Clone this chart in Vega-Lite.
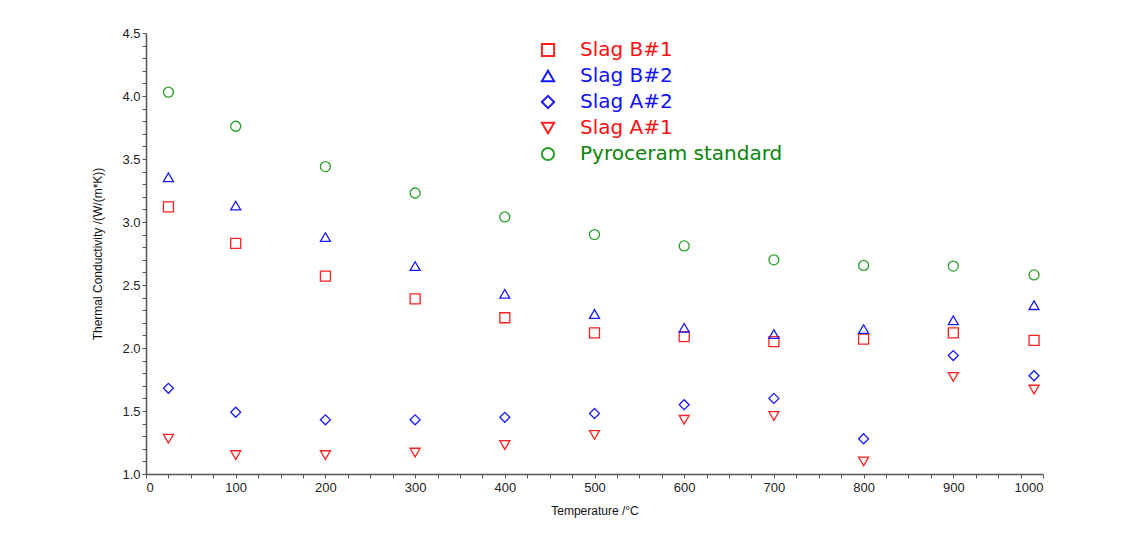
{
  "$schema": "https://vega.github.io/schema/vega-lite/v6.json",
  "width": 897,
  "height": 441,
  "autosize": {"type": "none"},
  "padding": {"left": 146, "top": 33, "right": 90, "bottom": 63},
  "background": "white",
  "data": {
    "values": [
      {"series": "Slag B#1", "T": 25, "k": 3.12},
      {"series": "Slag B#1", "T": 100, "k": 2.83},
      {"series": "Slag B#1", "T": 200, "k": 2.57},
      {"series": "Slag B#1", "T": 300, "k": 2.39},
      {"series": "Slag B#1", "T": 400, "k": 2.24},
      {"series": "Slag B#1", "T": 500, "k": 2.12},
      {"series": "Slag B#1", "T": 600, "k": 2.09},
      {"series": "Slag B#1", "T": 700, "k": 2.05},
      {"series": "Slag B#1", "T": 800, "k": 2.07},
      {"series": "Slag B#1", "T": 900, "k": 2.12},
      {"series": "Slag B#1", "T": 990, "k": 2.06},
      {"series": "Slag B#2", "T": 25, "k": 3.355},
      {"series": "Slag B#2", "T": 100, "k": 3.13},
      {"series": "Slag B#2", "T": 200, "k": 2.88},
      {"series": "Slag B#2", "T": 300, "k": 2.65},
      {"series": "Slag B#2", "T": 400, "k": 2.43},
      {"series": "Slag B#2", "T": 500, "k": 2.27},
      {"series": "Slag B#2", "T": 600, "k": 2.16},
      {"series": "Slag B#2", "T": 700, "k": 2.11},
      {"series": "Slag B#2", "T": 800, "k": 2.15},
      {"series": "Slag B#2", "T": 900, "k": 2.22},
      {"series": "Slag B#2", "T": 990, "k": 2.34},
      {"series": "Slag A#2", "T": 25, "k": 1.68},
      {"series": "Slag A#2", "T": 100, "k": 1.49},
      {"series": "Slag A#2", "T": 200, "k": 1.43},
      {"series": "Slag A#2", "T": 300, "k": 1.43},
      {"series": "Slag A#2", "T": 400, "k": 1.45},
      {"series": "Slag A#2", "T": 500, "k": 1.48},
      {"series": "Slag A#2", "T": 600, "k": 1.55},
      {"series": "Slag A#2", "T": 700, "k": 1.6},
      {"series": "Slag A#2", "T": 800, "k": 1.28},
      {"series": "Slag A#2", "T": 900, "k": 1.94},
      {"series": "Slag A#2", "T": 990, "k": 1.78},
      {"series": "Slag A#1", "T": 25, "k": 1.28},
      {"series": "Slag A#1", "T": 100, "k": 1.15},
      {"series": "Slag A#1", "T": 200, "k": 1.15},
      {"series": "Slag A#1", "T": 300, "k": 1.17},
      {"series": "Slag A#1", "T": 400, "k": 1.23},
      {"series": "Slag A#1", "T": 500, "k": 1.31},
      {"series": "Slag A#1", "T": 600, "k": 1.43},
      {"series": "Slag A#1", "T": 700, "k": 1.46},
      {"series": "Slag A#1", "T": 800, "k": 1.1},
      {"series": "Slag A#1", "T": 900, "k": 1.77},
      {"series": "Slag A#1", "T": 990, "k": 1.67},
      {"series": "Pyroceram standard", "T": 25, "k": 4.03},
      {"series": "Pyroceram standard", "T": 100, "k": 3.76},
      {"series": "Pyroceram standard", "T": 200, "k": 3.44},
      {"series": "Pyroceram standard", "T": 300, "k": 3.23},
      {"series": "Pyroceram standard", "T": 400, "k": 3.04},
      {"series": "Pyroceram standard", "T": 500, "k": 2.9},
      {"series": "Pyroceram standard", "T": 600, "k": 2.81},
      {"series": "Pyroceram standard", "T": 700, "k": 2.7},
      {"series": "Pyroceram standard", "T": 800, "k": 2.655},
      {"series": "Pyroceram standard", "T": 900, "k": 2.65},
      {"series": "Pyroceram standard", "T": 990, "k": 2.58}
    ]
  },
  "mark": {"type": "point", "filled": false, "strokeWidth": 1.3, "size": 100, "opacity": 1},
  "encoding": {
    "x": {
      "field": "T",
      "type": "quantitative",
      "scale": {"domain": [0, 1000], "nice": false, "zero": false},
      "axis": {
        "title": "Temperature /°C",
        "values": [0,25,50,75,100,125,150,175,200,225,250,275,300,325,350,375,400,425,450,475,500,525,550,575,600,625,650,675,700,725,750,775,800,825,850,875,900,925,950,975,1000],
        "format": "d",
        "labelExpr": "datum.value % 100 === 0 ? datum.label : ''",
        "labelDx": 3,
        "labelPadding": 3,
        "titlePadding": 11
      }
    },
    "y": {
      "field": "k",
      "type": "quantitative",
      "scale": {"domain": [1.0, 4.5], "nice": false, "zero": false},
      "axis": {
        "title": "Thermal Conductivity /(W/(m*K))",
        "values": [1.0,1.1,1.2,1.3,1.4,1.5,1.6,1.7,1.8,1.9,2.0,2.1,2.2,2.3,2.4,2.5,2.6,2.7,2.8,2.9,3.0,3.1,3.2,3.3,3.4,3.5,3.6,3.7,3.8,3.9,4.0,4.1,4.2,4.3,4.4,4.5],
        "format": ".1f",
        "labelExpr": "abs(datum.value * 2 - round(datum.value * 2)) < 0.001 ? datum.label : ''",
        "labelPadding": 2,
        "titlePadding": 17
      }
    },
    "color": {
      "field": "series",
      "type": "nominal",
      "scale": {
        "domain": ["Slag B#1", "Slag B#2", "Slag A#2", "Slag A#1", "Pyroceram standard"],
        "range": ["#ff2020", "#1a1aff", "#1a1aff", "#ff2020", "#2aa02a"]
      },
      "legend": {
        "title": null,
        "orient": "none",
        "legendX": 392,
        "legendY": 7,
        "labelFont": "DejaVu Sans",
        "labelFontSize": 20,
        "labelLimit": 0,
        "labelOffset": 22,
        "rowPadding": 5,
        "symbolSize": 150,
        "symbolStrokeWidth": 2,
        "labelColor": {"expr": "datum.label == 'Pyroceram standard' ? '#0a850a' : (datum.label == 'Slag B#2' || datum.label == 'Slag A#2') ? '#1010ff' : '#ff1010'"}
      }
    },
    "shape": {
      "field": "series",
      "type": "nominal",
      "scale": {
        "domain": ["Slag B#1", "Slag B#2", "Slag A#2", "Slag A#1", "Pyroceram standard"],
        "range": ["square", "triangle-up", "diamond", "triangle-down", "circle"]
      }
    }
  },
  "config": {
    "view": {"stroke": null},
    "axis": {
      "grid": false,
      "labelFont": "Liberation Sans",
      "labelFontSize": 13,
      "labelColor": "#222222",
      "titleFont": "Liberation Sans",
      "titleFontSize": 12,
      "titleFontWeight": "normal",
      "titleColor": "#111111",
      "domainColor": "#555555",
      "tickColor": "#555555",
      "tickSize": 4,
      "domainWidth": 1.5
    }
  }
}
